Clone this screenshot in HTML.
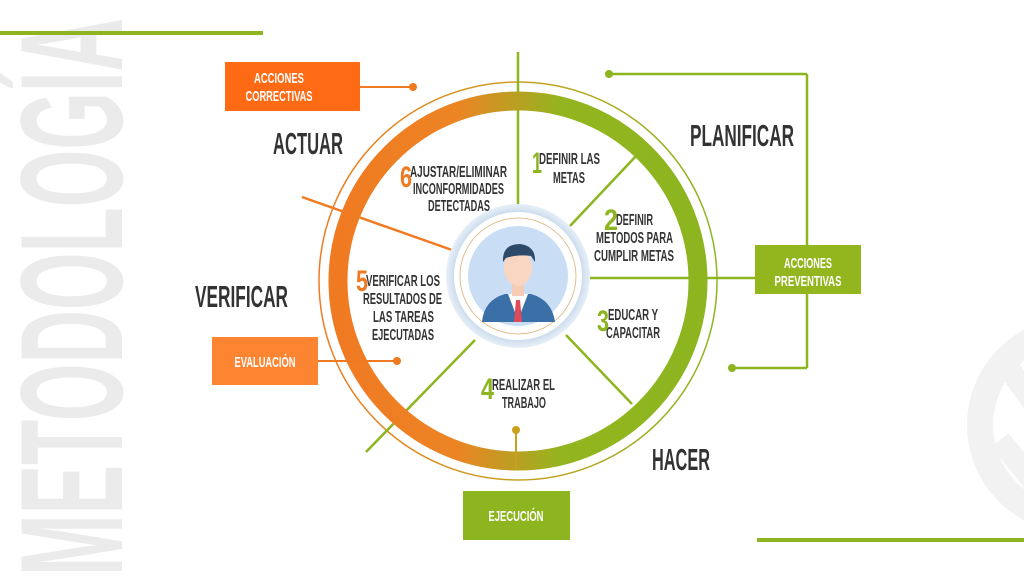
<!DOCTYPE html>
<html><head><meta charset="utf-8"><style>
html,body{margin:0;padding:0;background:#fff;}
svg{display:block;}
text{font-family:"Liberation Sans Narrow","Liberation Sans",sans-serif;font-weight:bold;}
</style></head><body>
<svg width="1024" height="576" viewBox="0 0 1024 576" xmlns="http://www.w3.org/2000/svg">
<defs>
<linearGradient id="rg" x1="0" y1="0" x2="1" y2="0">
<stop offset="0" stop-color="#f07a22"/><stop offset="0.33" stop-color="#ec8424"/>
<stop offset="0.62" stop-color="#93b51f"/><stop offset="1" stop-color="#8cb51f"/></linearGradient>
<linearGradient id="tg" x1="0" y1="0" x2="1" y2="0">
<stop offset="0" stop-color="#f07a22"/><stop offset="0.5" stop-color="#c9a020"/><stop offset="1" stop-color="#8cb51f"/></linearGradient>
<radialGradient id="glow"><stop offset="0.75" stop-color="#aac4e0"/><stop offset="1" stop-color="#e8f0f8"/></radialGradient>
</defs>
<text x="0" y="0" transform="translate(122,576) rotate(-90)" font-size="146" fill="#ebebeb" textLength="558" lengthAdjust="spacingAndGlyphs">METODOLOGÍA</text>
<circle cx="1075" cy="425" r="95" fill="none" stroke="#f2f2f2" stroke-width="26"/>
<path d="M1010 370 L1060 440 M1000 440 L1040 490" stroke="#f2f2f2" stroke-width="22"/>
<rect x="0" y="31" width="263" height="4" fill="#8cb51f"/>
<rect x="757" y="538" width="267" height="4" fill="#8cb51f"/>
<circle cx="518" cy="281" r="199" fill="none" stroke="url(#tg)" stroke-width="1.5"/>
<g stroke="#8cb51f" stroke-width="2.5">
<line x1="518" y1="52" x2="518" y2="205"/>
<line x1="570" y1="226" x2="636" y2="156"/>
<line x1="590" y1="278" x2="755" y2="278"/>
<line x1="566" y1="335" x2="632" y2="404"/>
<line x1="475" y1="340" x2="366" y2="452"/>
<line x1="609" y1="74" x2="807" y2="74"/>
<line x1="807" y1="74" x2="807" y2="368"/>
<line x1="807" y1="368" x2="732" y2="368"/>
</g>
<circle cx="609" cy="74" r="4" fill="#8cb51f"/>
<circle cx="732" cy="368" r="4" fill="#8cb51f"/>
<line x1="302" y1="197" x2="452" y2="250" stroke="#f07a22" stroke-width="2.5"/>
<circle cx="518" cy="281" r="180" fill="none" stroke="url(#rg)" stroke-width="19"/>
<line x1="360" y1="87" x2="413" y2="87" stroke="#f07a22" stroke-width="2"/>
<circle cx="413" cy="87" r="4" fill="#f07a22"/>
<line x1="318" y1="361" x2="397" y2="361" stroke="#f07a22" stroke-width="2"/>
<circle cx="397" cy="361" r="4" fill="#f07a22"/>
<line x1="516" y1="430" x2="516" y2="470" stroke="#c9a020" stroke-width="2"/>
<circle cx="516" cy="430" r="4" fill="#c9a020"/>
<circle cx="518" cy="276" r="72" fill="url(#glow)"/>
<circle cx="518" cy="276" r="64" fill="#fff"/>
<circle cx="518" cy="276" r="58" fill="none" stroke="#d9b07a" stroke-width="0.8"/>
<circle cx="518" cy="276" r="50" fill="#c9def5"/>
<path d="M482 322 Q484 300 505 294 L531 294 Q552 300 555 322 Z" fill="#3a6fa8"/>
<path d="M508 294 L518 320 L528 294 Z" fill="#fff"/>
<path d="M516 300 L520 300 L522 322 L514 322 Z" fill="#e04a5a"/>
<rect x="512" y="280" width="12" height="16" fill="#f5cbb5"/>
<ellipse cx="518" cy="268" rx="14" ry="18" fill="#f9d6c2"/>
<path d="M503 262 Q502 244 520 244 Q536 246 535 262 L531 256 Q518 254 506 258 Z" fill="#2d4a6b"/>
<rect x="225" y="62" width="135" height="49" fill="#ff6a14"/>
<text x="279" y="83" font-size="15" fill="#fff" text-anchor="middle" textLength="50" lengthAdjust="spacingAndGlyphs">ACCIONES</text>
<text x="279" y="101" font-size="15" fill="#fff" text-anchor="middle" textLength="67" lengthAdjust="spacingAndGlyphs">CORRECTIVAS</text>
<rect x="212" y="337" width="106" height="48" fill="#fd8532"/>
<text x="265" y="367" font-size="15" fill="#fff" text-anchor="middle" textLength="61" lengthAdjust="spacingAndGlyphs">EVALUACIÓN</text>
<rect x="755" y="245" width="106" height="49" fill="#93b61e"/>
<text x="808" y="268" font-size="15" fill="#fff" text-anchor="middle" textLength="48" lengthAdjust="spacingAndGlyphs">ACCIONES</text>
<text x="808" y="286" font-size="15" fill="#fff" text-anchor="middle" textLength="67" lengthAdjust="spacingAndGlyphs">PREVENTIVAS</text>
<rect x="463" y="491" width="107" height="49" fill="#8cb51f"/>
<text x="516" y="521" font-size="15" fill="#fff" text-anchor="middle" textLength="55" lengthAdjust="spacingAndGlyphs">EJECUCIÓN</text>
<g fill="#333" font-size="31">
<text x="273" y="154" textLength="70" lengthAdjust="spacingAndGlyphs">ACTUAR</text>
<text x="690" y="146" textLength="104" lengthAdjust="spacingAndGlyphs">PLANIFICAR</text>
<text x="195" y="307" textLength="93" lengthAdjust="spacingAndGlyphs">VERIFICAR</text>
<text x="652" y="470" textLength="58" lengthAdjust="spacingAndGlyphs">HACER</text>
</g>
<g fill="#333" font-size="16">
<text x="539" y="164" textLength="61" lengthAdjust="spacingAndGlyphs">DEFINIR LAS</text>
<text x="553" y="183" textLength="32" lengthAdjust="spacingAndGlyphs">METAS</text>
<text x="616" y="225" textLength="37" lengthAdjust="spacingAndGlyphs">DEFINIR</text>
<text x="596" y="243" textLength="77" lengthAdjust="spacingAndGlyphs">METODOS PARA</text>
<text x="594" y="261" textLength="80" lengthAdjust="spacingAndGlyphs">CUMPLIR METAS</text>
<text x="608" y="320" textLength="50" lengthAdjust="spacingAndGlyphs">EDUCAR Y</text>
<text x="606" y="338" textLength="54" lengthAdjust="spacingAndGlyphs">CAPACITAR</text>
<text x="492" y="390" textLength="63" lengthAdjust="spacingAndGlyphs">REALIZAR EL</text>
<text x="502" y="408" textLength="44" lengthAdjust="spacingAndGlyphs">TRABAJO</text>
<text x="366" y="286" textLength="74" lengthAdjust="spacingAndGlyphs">VERIFICAR LOS</text>
<text x="363" y="304" textLength="79" lengthAdjust="spacingAndGlyphs">RESULTADOS DE</text>
<text x="373" y="322" textLength="61" lengthAdjust="spacingAndGlyphs">LAS TAREAS</text>
<text x="372" y="340" textLength="62" lengthAdjust="spacingAndGlyphs">EJECUTADAS</text>
<text x="410" y="177" textLength="97" lengthAdjust="spacingAndGlyphs">AJUSTAR/ELIMINAR</text>
<text x="413" y="194" textLength="91" lengthAdjust="spacingAndGlyphs">INCONFORMIDADES</text>
<text x="428" y="211" textLength="62" lengthAdjust="spacingAndGlyphs">DETECTADAS</text>
</g>
<g font-size="30">
<text x="532" y="173" fill="#8cb51f" textLength="10" lengthAdjust="spacingAndGlyphs">1</text>
<text x="604" y="230" fill="#8cb51f" textLength="14" lengthAdjust="spacingAndGlyphs">2</text>
<text x="597" y="331" fill="#8cb51f" textLength="12" lengthAdjust="spacingAndGlyphs">3</text>
<text x="481" y="399" fill="#8cb51f" textLength="13" lengthAdjust="spacingAndGlyphs">4</text>
<text x="356" y="291" fill="#f07a22" textLength="12" lengthAdjust="spacingAndGlyphs">5</text>
<text x="400" y="187" fill="#f07a22" textLength="12" lengthAdjust="spacingAndGlyphs">6</text>
</g>
</svg>
</body></html>
